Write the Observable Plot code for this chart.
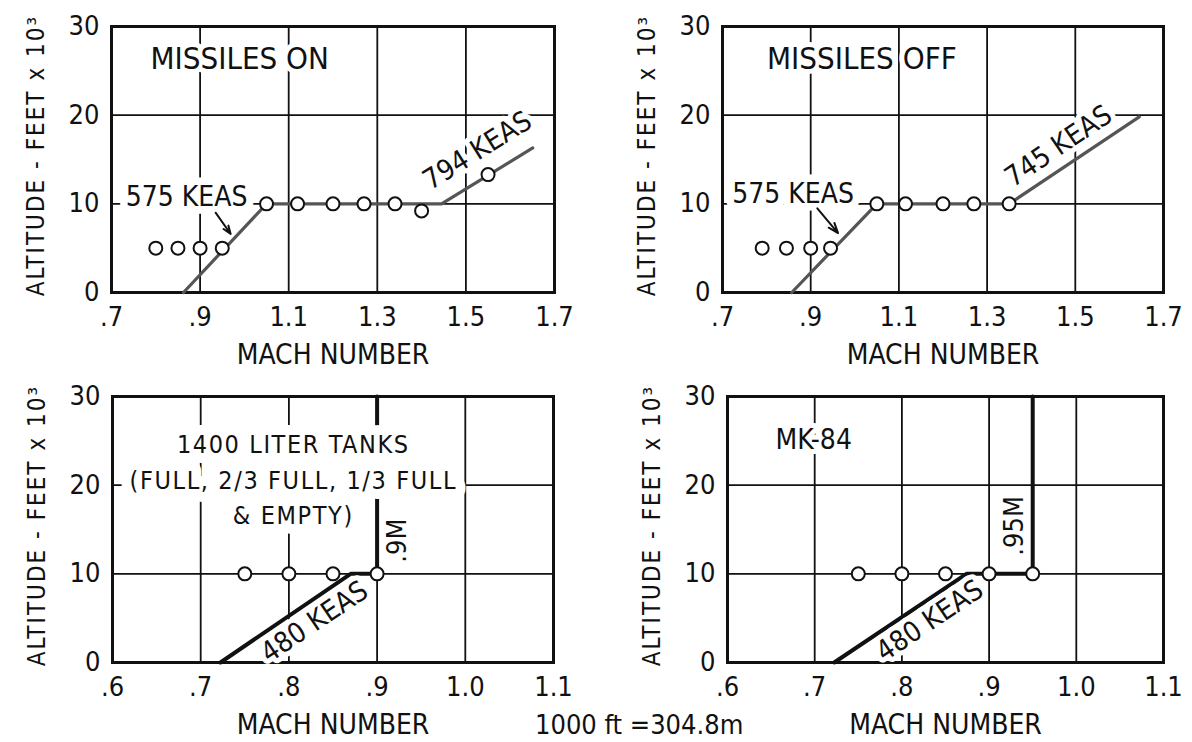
<!DOCTYPE html>
<html>
<head>
<meta charset="utf-8">
<script src="https://cdn.jsdelivr.net/npm/d3@7"></script>
<script src="https://cdn.jsdelivr.net/npm/@observablehq/plot@0.6"></script>
<style>
  html, body { margin: 0; padding: 0; background: #fff; }
  #page { position: relative; width: 1192px; height: 742px; overflow: hidden;
    font-family: "DejaVu Sans Condensed", "Liberation Sans Narrow", "DejaVu Sans", sans-serif; color: #111; }
  .panel { position: absolute; }
  .panel svg { overflow: visible; }
  #note { position: absolute; left: 535px; top: 711px; font-size: 27px; line-height: 27px; white-space: pre; }
</style>
</head>
<body>
<div id="page"></div>
<script>
// ---- Shared axis values ----
const altTicks = [0, 10, 20, 30];
const altTickLabels = ["0", "10", "20", "30"];
const xTitle = "MACH NUMBER";
const yTitle = "ALTITUDE - FEET x 10³";

const highTicks = [0.7, 0.9, 1.1, 1.3, 1.5, 1.7];
const highTickLabels = [".7", ".9", "1.1", "1.3", "1.5", "1.7"];
const lowTicks = [0.6, 0.7, 0.8, 0.9, 1.0, 1.1];
const lowTickLabels = [".6", ".7", ".8", ".9", "1.0", "1.1"];

// ---- Missiles on ----
const onMach = [0.80, 0.85, 0.90, 0.95, 1.05, 1.12, 1.20, 1.27, 1.34, 1.40, 1.55];
const onAlt = [5, 5, 5, 5, 10, 10, 10, 10, 10, 9.2, 13.3];
const onLimitMach = [0.8625, 1.05, 1.445, 1.651];
const onLimitAlt = [0, 10, 10, 16.3];

// ---- Missiles off ----
const offMach = [0.79, 0.845, 0.90, 0.945, 1.05, 1.115, 1.20, 1.27, 1.35];
const offAlt = [5, 5, 5, 5, 10, 10, 10, 10, 10];
const offLimitMach = [0.857, 1.05, 1.35, 1.645];
const offLimitAlt = [0, 10, 10, 19.8];

// ---- 1400 liter tanks ----
const tankMach = [0.75, 0.80, 0.85, 0.90];
const tankAlt = [10, 10, 10, 10];
const tankLimitMach = [0.7224, 0.87, 0.90, 0.90];
const tankLimitAlt = [0, 10, 10, 30];
const tankNote = "1400 LITER TANKS\n(FULL, 2/3 FULL, 1/3 FULL\n& EMPTY)";

// ---- MK-84 ----
const mk84Mach = [0.75, 0.80, 0.85, 0.90, 0.95];
const mk84Alt = [10, 10, 10, 10, 10];
const mk84LimitMach = [0.7224, 0.874, 0.95, 0.95];
const mk84LimitAlt = [0, 10, 10, 30];

const INK = "#111";
const GREY = "#555";
const FONT = '"DejaVu Sans Condensed", "Liberation Sans Narrow", "DejaVu Sans", sans-serif';

// Extra tracking for the lettering that runs wide
const tracking = [
  {match: "ALTITUDE", px: 2},
  {match: "LITER", px: 1.6}
];

function label(text, o) {
  return Plot.text([text], {
    text: d => d, x: o.x, y: o.y, rotate: o.rotate || 0,
    textAnchor: o.anchor || "middle", lineAnchor: "middle",
    fontSize: o.size || 28, lineHeight: o.lineHeight || 1,
    fill: INK, stroke: "white", strokeWidth: o.halo == null ? 10 : o.halo
  });
}

function points(mach, alt) {
  return Plot.dot(mach, {x: d => d, y: (d, i) => alt[i], r: 6.5, fill: "white", stroke: INK, strokeWidth: 2});
}

function limit(mach, alt, stroke, width) {
  return Plot.line(mach, {x: d => d, y: (d, i) => alt[i], stroke, strokeWidth: width});
}

function panel({left, top, width, height, margin, xDomain, ticks, tickLabels, marks}) {
  const chart = Plot.plot({
    width, height,
    marginLeft: margin[0], marginRight: margin[1], marginTop: margin[2], marginBottom: margin[3],
    x: {domain: xDomain},
    y: {domain: [0, 30]},
    style: {fontFamily: FONT, color: INK, background: "transparent"},
    marks: [
      Plot.gridX(ticks, {stroke: INK, strokeOpacity: 1, strokeWidth: 1.8}),
      Plot.gridY(altTicks, {stroke: INK, strokeOpacity: 1, strokeWidth: 1.8}),
      Plot.frame({stroke: INK, strokeWidth: 3}),
      Plot.axisX(ticks, {tickSize: 0, tickPadding: 14, fontSize: 27, label: null,
        tickFormat: d => tickLabels[ticks.indexOf(d)]}),
      Plot.axisY(altTicks, {tickSize: 0, tickPadding: 12, fontSize: 27, label: null,
        tickFormat: d => altTickLabels[altTicks.indexOf(d)]}),
      Plot.text([xTitle], {text: d => d, frameAnchor: "bottom", dy: 63, fontSize: 28,
        textAnchor: "middle", lineAnchor: "middle", fill: INK}),
      Plot.text([yTitle], {text: d => d, frameAnchor: "left", dx: -75, dy: -4, rotate: -90,
        fontSize: 24, textAnchor: "middle", lineAnchor: "middle", fill: INK}),
      ...marks
    ]
  });
  d3.select(chart).selectAll("text").each(function () {
    const t = tracking.find(r => this.textContent.includes(r.match));
    if (t) this.style.letterSpacing = t.px + "px";
  });
  const holder = document.createElement("div");
  holder.className = "panel";
  holder.style.left = left + "px";
  holder.style.top = top + "px";
  holder.appendChild(chart);
  document.getElementById("page").appendChild(holder);
}

// Missiles on
panel({
  left: 0, top: 0, width: 600, height: 370, margin: [111, 46, 26, 78],
  xDomain: [0.7, 1.7], ticks: highTicks, tickLabels: highTickLabels,
  marks: [
    limit(onLimitMach, onLimitAlt, GREY, 3.2),
    points(onMach, onAlt),
    label("MISSILES ON", {x: 0.788, y: 26.3, anchor: "start", size: 31}),
    label("575 KEAS", {x: 0.732, y: 10.8, anchor: "start", halo: 15}),
    label("794 KEAS", {x: 1.526, y: 16.0, rotate: -32}),
    Plot.arrow([0], {x1: 0.935, y1: 9.0, x2: 0.969, y2: 6.6, stroke: INK, strokeWidth: 2, headLength: 10, headAngle: 40})
  ]
});

// Missiles off
panel({
  left: 600, top: 0, width: 592, height: 370, margin: [122, 29, 26, 78],
  xDomain: [0.7, 1.7], ticks: highTicks, tickLabels: highTickLabels,
  marks: [
    limit(offLimitMach, offLimitAlt, GREY, 3.2),
    points(offMach, offAlt),
    label("MISSILES OFF", {x: 0.801, y: 26.3, anchor: "start", size: 31}),
    label("575 KEAS", {x: 0.722, y: 11.1, anchor: "start", halo: 15}),
    label("745 KEAS", {x: 1.462, y: 16.5, rotate: -34}),
    Plot.arrow([0], {x1: 0.915, y1: 9.5, x2: 0.962, y2: 6.7, stroke: INK, strokeWidth: 2, headLength: 10, headAngle: 40})
  ]
});

// 1400 liter tanks
panel({
  left: 0, top: 370, width: 600, height: 372, margin: [112, 47, 26, 80],
  xDomain: [0.6, 1.1], ticks: lowTicks, tickLabels: lowTickLabels,
  marks: [
    limit(tankLimitMach, tankLimitAlt, INK, 4),
    points(tankMach, tankAlt),
    label(tankNote, {x: 0.805, y: 20.9, size: 25, lineHeight: 1.42, halo: 20}),
    label(".9M", {x: 0.9226, y: 13.75, rotate: -90, size: 27}),
    label("480 KEAS", {x: 0.829, y: 4.57, rotate: -34})
  ]
});

// MK-84
panel({
  left: 600, top: 370, width: 592, height: 372, margin: [127, 29, 26, 80],
  xDomain: [0.6, 1.1], ticks: lowTicks, tickLabels: lowTickLabels,
  marks: [
    limit(mk84LimitMach, mk84LimitAlt, INK, 4),
    points(mk84Mach, mk84Alt),
    label("MK-84", {x: 0.655, y: 25.1, anchor: "start"}),
    label(".95M", {x: 0.9286, y: 15.4, rotate: -90, size: 27}),
    label("480 KEAS", {x: 0.832, y: 4.7, rotate: -34})
  ]
});

const note = document.createElement("div");
note.id = "note";
note.textContent = "1000 ft =304.8m";
document.getElementById("page").appendChild(note);
</script>
</body>
</html>
